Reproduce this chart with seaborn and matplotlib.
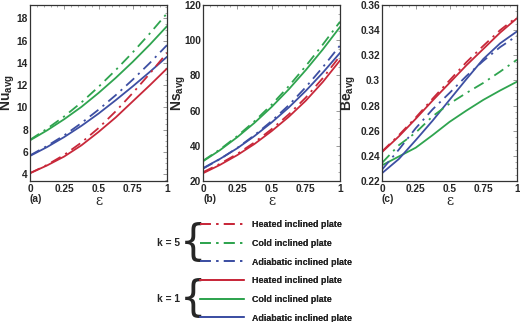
import numpy as np
import pandas as pd
import matplotlib
matplotlib.use("Agg")
import matplotlib.pyplot as plt
import seaborn as sns
from matplotlib.lines import Line2D
from matplotlib.ticker import AutoMinorLocator, FuncFormatter

# ---------------- data ----------------
eps = [0, 0.125, 0.25, 0.375, 0.5, 0.625, 0.75, 0.875, 1.0]

# Nu_avg
nu_k1_heated = [4.1, 4.8, 5.6, 6.6, 7.8, 9.1, 10.55, 12.0, 13.5]
nu_k1_cold = [7.05, 7.95, 8.95, 10.05, 11.3, 12.65, 14.1, 15.65, 17.3]
nu_k1_adiab = [5.65, 6.45, 7.35, 8.35, 9.45, 10.65, 11.9, 13.2, 14.55]
nu_k5_heated = [4.1, 4.85, 5.75, 6.85, 8.15, 9.65, 11.3, 13.05, 14.9]
nu_k5_cold = [7.1, 8.1, 9.2, 10.45, 11.85, 13.35, 14.95, 16.65, 18.45]
nu_k5_adiab = [5.7, 6.55, 7.5, 8.6, 9.8, 11.1, 12.5, 14.0, 15.6]

# Ns_avg
ns_k1_heated = [24.4, 29.2, 34.7, 41.0, 48.3, 56.4, 65.6, 76.3, 88.5]
ns_k1_cold = [31.2, 37.6, 44.9, 53.0, 62.0, 72.0, 83.0, 94.8, 107.5]
ns_k1_adiab = [27.3, 32.6, 38.6, 45.5, 53.2, 61.7, 71.2, 81.6, 92.8]
ns_k5_heated = [25.0, 29.8, 35.4, 41.9, 49.4, 57.8, 67.4, 78.5, 91.0]
ns_k5_cold = [31.5, 38.0, 45.5, 53.9, 63.3, 73.8, 85.3, 97.6, 110.5]
ns_k5_adiab = [27.0, 32.5, 38.8, 46.0, 54.0, 63.0, 73.3, 84.7, 97.0]

# Be_avg
be_k1_heated = [0.243, 0.2555, 0.2695, 0.284, 0.298, 0.312, 0.325, 0.338, 0.3495]
be_k1_cold = [0.2325, 0.2395, 0.2465, 0.2565, 0.267, 0.276, 0.2845, 0.292, 0.299]
be_k1_adiab = [0.2262, 0.2375, 0.2525, 0.268, 0.2845, 0.301, 0.317, 0.3295, 0.339]
be_k5_heated = [0.2435, 0.2565, 0.2705, 0.2855, 0.300, 0.3145, 0.3275, 0.340, 0.3505]
be_k5_cold = [0.2344, 0.2485, 0.2585, 0.2715, 0.2815, 0.290, 0.298, 0.307, 0.3165]
be_k5_adiab = [0.229, 0.245, 0.262, 0.277, 0.290, 0.3035, 0.3155, 0.3265, 0.3355]

plates = ["Heated inclined plate", "Cold inclined plate", "Adiabatic inclined plate"]
k_values = ["k = 5", "k = 1"]
panel_labels = ["(a)", "(b)", "(c)"]

# ---------------- style ----------------
sns.set_style("white")
plt.rcParams["font.family"] = ["Liberation Sans", "DejaVu Sans"]
plt.rcParams["mathtext.fontset"] = "custom"
plt.rcParams["mathtext.rm"] = "Liberation Sans"
plt.rcParams["mathtext.bf"] = "Liberation Sans:bold"
plt.rcParams["mathtext.it"] = "Liberation Sans:italic"

colors = {"Heated inclined plate": "#c8283a",
          "Cold inclined plate": "#2fa44f",
          "Adiabatic inclined plate": "#3d4fa3"}
dashdot = (0, (6, 3, 1.2, 3))

def make_df(h1, c1, a1, h5, c5, a5):
    rows = []
    for k, series in (("k = 5", (h5, c5, a5)), ("k = 1", (h1, c1, a1))):
        for plate, vals in zip(plates, series):
            for x, y in zip(eps, vals):
                rows.append({"eps": x, "val": y, "plate": plate, "k": k})
    return pd.DataFrame(rows)

dfs = [
    make_df(nu_k1_heated, nu_k1_cold, nu_k1_adiab, nu_k5_heated, nu_k5_cold, nu_k5_adiab),
    make_df(ns_k1_heated, ns_k1_cold, ns_k1_adiab, ns_k5_heated, ns_k5_cold, ns_k5_adiab),
    make_df(be_k1_heated, be_k1_cold, be_k1_adiab, be_k5_heated, be_k5_cold, be_k5_adiab),
]

fig = plt.figure(figsize=(5.2, 3.22), dpi=100)
positions = [
    [30 / 520, 141 / 322, 137 / 520, 176 / 322],
    [203 / 520, 141 / 322, 137 / 520, 176 / 322],
    [382 / 520, 141 / 322, 135 / 520, 176 / 322],
]
ylims = [(3.4, 19.2), (20, 120), (0.22, 0.36)]
yticks = [np.arange(4, 19, 2), np.arange(20, 121, 20), np.arange(0.22, 0.3601, 0.02)]
ylabels = [r"$\mathbf{Nu_{avg}}$", r"$\mathbf{Ns_{avg}}$", r"$\mathbf{Be_{avg}}$"]
ylabel_x = [-0.092, -0.11, -0.175]

fmt = FuncFormatter(lambda v, p: ("%.2f" % v).rstrip("0").rstrip("."))

for i, df in enumerate(dfs):
    ax = fig.add_axes(positions[i])
    for k in ("k = 1", "k = 5"):
        sub = df[df["k"] == k]
        sns.lineplot(data=sub, x="eps", y="val", hue="plate", palette=colors,
                     hue_order=plates, ax=ax, legend=False, linewidth=1.3,
                     estimator=None, sort=True)
        if k == "k = 5":
            for ln in ax.get_lines()[-3:]:
                ln.set_linestyle(dashdot)
    ax.set_xlim(0, 1)
    ax.set_ylim(*ylims[i])
    ax.set_xticks([0, 0.25, 0.5, 0.75, 1])
    ax.set_yticks(yticks[i])
    ax.xaxis.set_major_formatter(fmt)
    ax.yaxis.set_major_formatter(fmt)
    ax.xaxis.set_minor_locator(AutoMinorLocator(5))
    ax.yaxis.set_minor_locator(AutoMinorLocator(4))
    ax.tick_params(which="both", direction="in", top=True, right=True,
                   color="#888888")
    ax.tick_params(which="major", length=3, width=0.6, labelsize=7.3, pad=2)
    ax.tick_params(axis="y", which="major", pad=1.5)
    ax.tick_params(which="minor", length=1.6, width=0.5)
    for lab in ax.get_xticklabels() + ax.get_yticklabels():
        lab.set_fontweight("bold")
    for sp in ax.spines.values():
        sp.set_color("#333333")
        sp.set_linewidth(0.9)
    ax.set_xlabel("ε", fontsize=10, family="DejaVu Serif", labelpad=0)
    ax.set_ylabel(ylabels[i], fontsize=10)
    ax.yaxis.set_label_coords(ylabel_x[i], 0.5)
    ax.text(0.0, -0.105, panel_labels[i], transform=ax.transAxes, fontsize=7.3,
            fontweight="bold", ha="left", va="center")

# ---------------- legend ----------------
fs = 6.4
for k, ls, top in (("k = 5", dashdot, 220), ("k = 1", "-", 276)):
    handles = [Line2D([], [], color=colors[p], lw=1.3, linestyle=ls) for p in plates]
    leg = fig.legend(handles, plates, loc="upper left",
                     bbox_to_anchor=(200 / 520, 1 - top / 322),
                     bbox_transform=fig.transFigure, frameon=False,
                     handlelength=5.0, handletextpad=0.9,
                     labelspacing=1.1, borderpad=0, borderaxespad=0,
                     prop={"weight": "bold", "size": fs})
    fig.add_artist(leg)
    yc = 1 - (top + 23) / 322
    fig.text(193 / 520, yc, "{", fontsize=30, ha="center", va="center",
             family="DejaVu Sans")
    fig.text(180 / 520, yc, k, fontsize=7.3, fontweight="bold",
             ha="right", va="center")

fig.savefig("out.png", dpi=100)
